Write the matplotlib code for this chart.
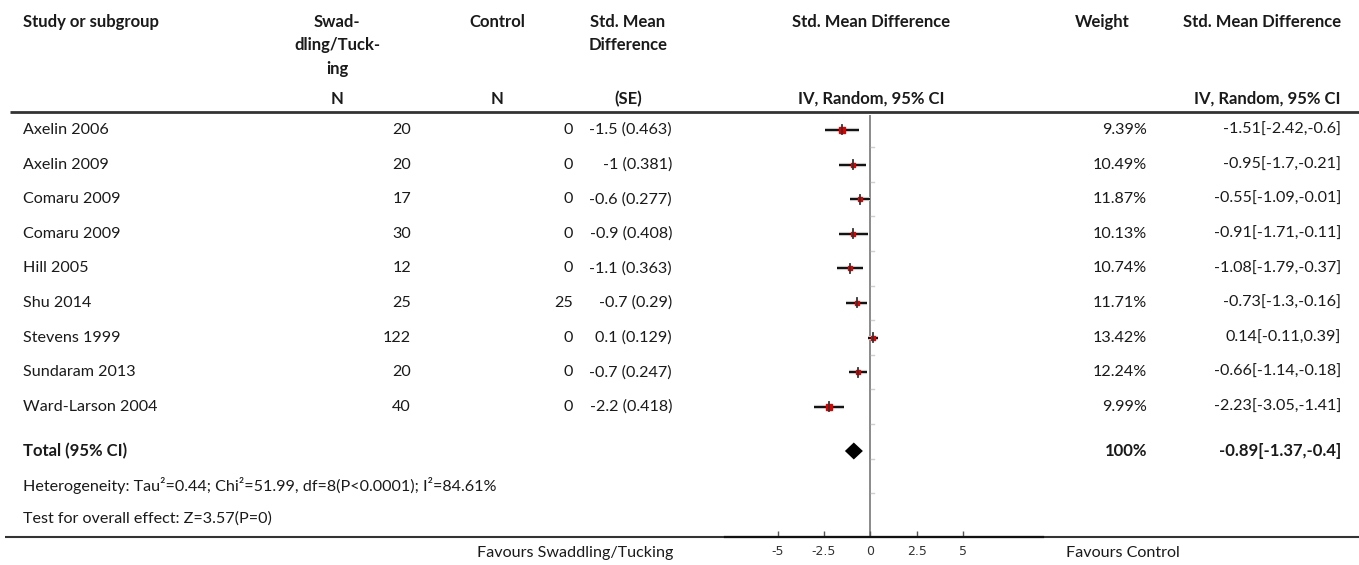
import matplotlib
matplotlib.use('Agg')
import matplotlib.pyplot as plt
import numpy as np

# ============================================================
# DATA
# ============================================================

studies = ['Axelin 2006', 'Axelin 2009', 'Comaru 2009', 'Comaru 2009', 'Hill 2005',
           'Shu 2014', 'Stevens 1999', 'Sundaram 2013', 'Ward-Larson 2004']
n_swaddling = [20, 20, 17, 30, 12, 25, 122, 20, 40]
n_control   = [0, 0, 0, 0, 0, 25, 0, 0, 0]
smd_text    = ['-1.5 (0.463)', '-1 (0.381)', '-0.6 (0.277)', '-0.9 (0.408)', '-1.1 (0.363)',
               '-0.7 (0.29)', '0.1 (0.129)', '-0.7 (0.247)', '-2.2 (0.418)']
est   = [-1.51, -0.95, -0.55, -0.91, -1.08, -0.73, 0.14, -0.66, -2.23]
lo    = [-2.42, -1.7, -1.09, -1.71, -1.79, -1.3, -0.11, -1.14, -3.05]
hi    = [-0.6, -0.21, -0.01, -0.11, -0.37, -0.16, 0.39, -0.18, -1.41]
weights = ['9.39%', '10.49%', '11.87%', '10.13%', '10.74%', '11.71%', '13.42%', '12.24%', '9.99%']

total_est, total_lo, total_hi = -0.89, -1.37, -0.4
total_weight = '100%'
heterogeneity = 'Heterogeneity: Tau\u00b2=0.44; Chi\u00b2=51.99, df=8(P<0.0001); I\u00b2=84.61%'
overall = 'Test for overall effect: Z=3.57(P=0)'
xticks = [-5, -2.5, 0, 2.5, 5]

# ============================================================
# LAYOUT (pixels)
# ============================================================

W, H = 1359, 565
FONT = 'Lato'
FS = 11.6
FS_B = 12
TXT = '#1a1a1a'
row_y0, row_dy = 130, 34.6
total_y = 451
marker_px = [6.5, 4.5, 4, 4.5, 4.5, 4, 5, 4, 6.5]

fig = plt.figure(figsize=(W / 100, H / 100), dpi=100)
bg = fig.add_axes([0, 0, 1, 1])
bg.set_xlim(0, W)
bg.set_ylim(H, 0)
bg.axis('off')

def txt(x, y, s, ha='left', bold=False, color=TXT):
    bg.text(x, y, s, ha=ha, va='center', fontsize=FS_B if bold else FS, family=FONT,
            fontweight='bold' if bold else 'normal', color=color)

# header
txt(23, 22, 'Study or subgroup', bold=True)
txt(337, 22, 'Swad-', ha='center', bold=True)
txt(337, 45, 'dling/Tuck-', ha='center', bold=True)
txt(337, 69, 'ing', ha='center', bold=True)
txt(337, 99, 'N', ha='center', bold=True)
txt(497, 22, 'Control', ha='center', bold=True)
txt(497, 99, 'N', ha='center', bold=True)
txt(628, 22, 'Std. Mean', ha='center', bold=True)
txt(628, 45, 'Difference', ha='center', bold=True)
txt(628, 99, '(SE)', ha='center', bold=True)
txt(871, 22, 'Std. Mean Difference', ha='center', bold=True)
txt(871, 99, 'IV, Random, 95% CI', ha='center', bold=True)
txt(1102, 22, 'Weight', ha='center', bold=True)
txt(1341, 22, 'Std. Mean Difference', ha='right', bold=True)
txt(1341, 99, 'IV, Random, 95% CI', ha='right', bold=True)
bg.plot([10, W], [112, 112], color='#333333', lw=2, solid_capstyle='butt')

# study rows
for i, name in enumerate(studies):
    y = row_y0 + i * row_dy
    txt(23, y, name)
    txt(411, y, str(n_swaddling[i]), ha='right')
    txt(573, y, str(n_control[i]), ha='right')
    txt(672, y, smd_text[i], ha='right')
    txt(1147, y, weights[i], ha='right')
    txt(1341, y, f'{est[i]:g}[{lo[i]:g},{hi[i]:g}]', ha='right')

# totals and footer
txt(23, total_y, 'Total (95% CI)', bold=True)
txt(1147, total_y, total_weight, ha='right', bold=True)
txt(1341, total_y, f'{total_est:g}[{total_lo:g},{total_hi:g}]', ha='right', bold=True)
txt(23, 485, heterogeneity)
txt(23, 519, overall)
bg.plot([5, W], [537, 537], color='#333333', lw=1.5, solid_capstyle='butt')
txt(673, 553, 'Favours Swaddling/Tucking', ha='right')
txt(1066, 553, 'Favours Control')

# ============================================================
# FOREST PLOT
# ============================================================

ax_l, ax_r, ax_t, ax_b = 725, 1043, 115, 537
ax = fig.add_axes([ax_l / W, 1 - ax_b / H, (ax_r - ax_l) / W, (ax_b - ax_t) / H])
ax.patch.set_alpha(0)
ax.set_xlim(-7.84, 9.32)
ax.set_ylim(ax_b, ax_t)
for s in ['left', 'right', 'top']:
    ax.spines[s].set_visible(False)
ax.spines['bottom'].set_color('#111111')
ax.spines['bottom'].set_linewidth(1.6)
ax.set_yticks([])
ax.set_xticks(xticks)
ax.set_xticklabels([f'{t:g}' for t in xticks], family='DejaVu Sans', fontsize=9, color='#333333')
ax.tick_params(axis='x', direction='in', length=4, width=1, color='#555555', pad=6)

ax.axvline(0, color='#8a8a8a', lw=1.4, zorder=1)
for i in range(len(studies) + 2):
    yb = row_y0 + (i + 0.5) * row_dy
    ax.plot([0.05, 0.2], [yb, yb], color='#d0d0d0', lw=1, zorder=1)

for i in range(len(studies)):
    y = row_y0 + i * row_dy
    ax.plot([lo[i], hi[i]], [y, y], color='#c8c8c8', lw=3, zorder=2, solid_capstyle='butt')
    ax.plot([lo[i], hi[i]], [y, y], color='black', lw=1.3, zorder=3, solid_capstyle='butt')
    ax.plot(est[i], y, marker='s', ms=marker_px[i] * 0.72, mfc='#e00000', mec='#e00000',
            zorder=4)
    ax.plot([est[i], est[i]], [y - 4.5, y + 4.5], color='#333333', lw=1.3, zorder=5)

dh = 8.5
ax.fill([total_lo, total_est, total_hi, total_est],
        [total_y, total_y - dh, total_y, total_y + dh], color='black', zorder=4, lw=0)

fig.savefig('out.png', dpi=100)
